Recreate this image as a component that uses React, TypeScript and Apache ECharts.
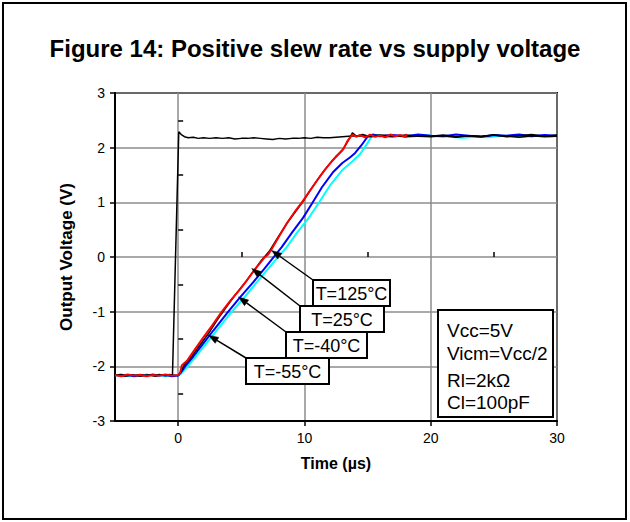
import React, { useEffect, useRef } from 'react';
import * as echarts from 'echarts';

const TITLE = 'Figure 14: Positive slew rate vs supply voltage';
const X_NAME = 'Time (µs)';
const Y_NAME = 'Output Voltage (V)';
const X_MIN = -5;
const X_MAX = 30;
const Y_MIN = -3;
const Y_MAX = 3;
const X_MAJOR = [0, 10, 20, 30];
const X_MINOR = [5, 15, 25];
const Y_MINOR = [-2.5, -1.5, -0.5, 0.5, 1.5, 2.5];
const CONDITIONS = ['Vcc=5V', 'Vicm=Vcc/2', 'Rl=2kΩ', 'Cl=100pF'];

const stepBlack = [
  [-5, -2.17], [-4.6, -2.15], [-4.2, -2.18], [-3.8, -2.16], [-3.4, -2.17], [-3, -2.15], [-2.6, -2.17],
  [-2.2, -2.16], [-1.8, -2.18], [-1.4, -2.16], [-1, -2.17], [-0.7, -2.15], [-0.45, -2.17], [0.05, 2.29],
  [0.25, 2.24], [0.5, 2.2], [0.8, 2.18], [1.2, 2.19], [1.6, 2.17], [2.0, 2.18], [2.5, 2.17], [3, 2.18],
  [3.5, 2.17], [4, 2.18], [4.5, 2.16], [5, 2.17], [5.5, 2.17], [6, 2.18], [6.5, 2.17], [7, 2.16],
  [7.5, 2.15], [8, 2.17], [8.5, 2.16], [9, 2.17], [9.5, 2.17], [10, 2.18], [10.5, 2.17], [11, 2.19],
  [11.5, 2.18], [12, 2.18], [12.5, 2.19], [13, 2.2], [13.5, 2.21], [14, 2.22], [15, 2.21], [16, 2.23],
  [17, 2.22], [18, 2.2], [19, 2.22], [20, 2.21], [21, 2.23], [22, 2.2], [23, 2.22], [24, 2.21],
  [25, 2.23], [26, 2.2], [27, 2.22], [28, 2.24], [29, 2.21], [30, 2.23],
];

const rampRed = [
  [-5, -2.16], [-4.5, -2.18], [-4, -2.15], [-3.5, -2.17], [-3, -2.16], [-2.5, -2.18], [-2, -2.16],
  [-1.5, -2.17], [-1, -2.15], [-0.5, -2.17], [0, -2.16], [0.15, -2.12], [0.3, -1.98], [0.7, -1.9],
  [1.3, -1.7], [2.0, -1.47], [2.7, -1.25], [3.46, -1.0], [4.2, -0.78], [4.8, -0.62], [5.4, -0.44],
  [6.1, -0.22], [6.8, -0.02], [7.1, 0.04], [7.4, 0.14], [8.0, 0.38], [8.7, 0.65], [9.3, 0.85],
  [9.8, 1.0], [10.4, 1.2], [11.0, 1.4], [11.6, 1.59], [12.2, 1.76], [12.7, 1.88], [13.1, 1.98],
  [13.4, 2.12], [13.8, 2.24], [14.1, 2.2], [14.4, 2.23], [14.8, 2.19], [15.2, 2.24], [15.6, 2.2],
  [16.0, 2.22], [16.4, 2.19], [16.8, 2.24], [17.2, 2.21], [17.6, 2.23], [18.0, 2.2], [18.1, 2.25],
];

const rampBlack = [
  [-5, -2.17], [-4.5, -2.15], [-4, -2.17], [-3.5, -2.16], [-3, -2.18], [-2.5, -2.16], [-2, -2.17],
  [-1.5, -2.15], [-1, -2.17], [-0.5, -2.16], [0, -2.17], [0.2, -2.1], [0.5, -1.97], [1.0, -1.84],
  [1.7, -1.62], [2.4, -1.4], [3.1, -1.15], [3.8, -0.92], [4.5, -0.7], [5.2, -0.5], [5.9, -0.28],
  [6.6, -0.06], [7.2, 0.1], [7.8, 0.32], [8.5, 0.58], [9.2, 0.8], [9.9, 1.02], [10.6, 1.27],
  [11.3, 1.5], [11.9, 1.68], [12.5, 1.84], [13.0, 1.95], [13.4, 2.1], [13.8, 2.27], [14.1, 2.21],
  [14.6, 2.24], [15.2, 2.2], [16, 2.22], [17, 2.2], [18, 2.23], [19, 2.21], [20, 2.2], [21, 2.22],
  [22, 2.19], [23, 2.22], [24, 2.2], [25, 2.23], [26, 2.21], [27, 2.19], [28, 2.22], [29, 2.2], [30, 2.21],
];

const rampBlue = [
  [-5, -2.16], [-4.5, -2.17], [-4, -2.16], [-3.5, -2.18], [-3, -2.16], [-2.5, -2.17], [-2, -2.15],
  [-1.5, -2.17], [-1, -2.16], [-0.5, -2.18], [0, -2.17], [0.2, -2.12], [0.55, -2.0], [1.2, -1.82],
  [2.0, -1.58], [2.8, -1.34], [3.97, -1.0], [4.9, -0.74], [5.95, -0.46], [6.8, -0.22], [7.5, -0.02],
  [8.2, 0.18], [9.0, 0.44], [9.9, 0.72], [10.6, 0.98], [11.4, 1.28], [12.3, 1.56], [13.0, 1.72],
  [13.6, 1.82], [14.0, 1.9], [14.5, 2.04], [15.0, 2.2], [15.4, 2.24], [16, 2.21], [17, 2.23],
  [18, 2.21], [19, 2.24], [20, 2.22], [21, 2.21], [22, 2.24], [23, 2.22], [24, 2.2], [25, 2.23],
  [26, 2.22], [27, 2.24], [28, 2.21], [29, 2.23], [30, 2.22],
];

const rampCyan = [
  [-5, -2.17], [-4.5, -2.16], [-4, -2.18], [-3.5, -2.16], [-3, -2.17], [-2.5, -2.15], [-2, -2.17],
  [-1.5, -2.16], [-1, -2.18], [-0.5, -2.16], [0, -2.17], [0.2, -2.14], [0.6, -2.04], [1.4, -1.82],
  [2.3, -1.56], [3.2, -1.3], [4.25, -1.0], [5.2, -0.75], [6.2, -0.47], [7.0, -0.25], [7.8, -0.03],
  [8.6, 0.18], [9.4, 0.44], [10.3, 0.7], [11.1, 0.98], [12.0, 1.3], [13.0, 1.59], [13.7, 1.73],
  [14.4, 1.88], [14.9, 2.05], [15.3, 2.2], [15.7, 2.23], [16.5, 2.2], [17.5, 2.22], [18.5, 2.2],
  [19.5, 2.23], [20.5, 2.21], [21.5, 2.2], [22.5, 2.18], [23.5, 2.2], [24.5, 2.19], [25.5, 2.22],
  [26.5, 2.21], [27.5, 2.2], [28.5, 2.22], [29.5, 2.21], [30, 2.22],
];

const ANNOTATIONS = [
  { label: 'T=125°C', tip: [7.4, 0.12] },
  { label: 'T=25°C', tip: [5.83, -0.21] },
  { label: 'T=-40°C', tip: [4.78, -0.73] },
  { label: 'T=-55°C', tip: [2.4, -1.43] },
];

const FONT = '"Liberation Sans", Arial, Helvetica, sans-serif';

// Layout of annotation boxes (pixels)
const BOXES = [
  { x: 313, y: 280, w: 77, h: 26 },
  { x: 300, y: 306, w: 84, h: 26 },
  { x: 286, y: 332, w: 81, h: 26 },
  { x: 246, y: 358, w: 83, h: 26 },
];
const COND_BOX = { x: 438, y: 310, w: 115, h: 107 };
const COND_Y = [330, 353, 380, 402];

export default function App() {
  const ref = useRef<HTMLDivElement>(null);
  useEffect(() => {
    if (!ref.current) return;
    const chart = echarts.init(ref.current, undefined, { renderer: 'svg' });
    const mk = (data: number[][], color: string, width: number) => ({
      type: 'line',
      data,
      xAxisIndex: 0,
      yAxisIndex: 0,
      showSymbol: false,
      symbol: 'none',
      silent: true,
      lineStyle: { color, width },
      itemStyle: { color },
    });
    const axisCommonX = {
      type: 'value',
      min: X_MIN,
      max: X_MAX,
      position: 'bottom',
    };
    chart.setOption({
      animation: false,
      backgroundColor: '#fff',
      title: {
        text: TITLE,
        left: 'center',
        top: 31,
        textStyle: { fontFamily: FONT, fontSize: 24, fontWeight: 'bold', color: '#000' },
      },
      grid: {
        left: 115,
        right: 73,
        top: 93,
        bottom: 101,
        show: true,
        borderColor: '#000',
        borderWidth: 2,
        backgroundColor: 'transparent',
      },
      xAxis: [
        {
          ...axisCommonX,
          splitNumber: 4,
          axisLine: { show: true, onZero: false, lineStyle: { color: '#000', width: 2 } },
          axisTick: { show: true, customValues: X_MAJOR, inside: false, length: 5, lineStyle: { color: '#000', width: 1.5 } },
          axisLabel: { customValues: X_MAJOR, color: '#000', fontSize: 14, fontFamily: FONT, margin: 10 },
          splitLine: { show: true, lineStyle: { color: '#8c8c8c', width: 1.5 } },
          name: X_NAME,
          nameLocation: 'middle',
          nameGap: 34,
          nameTextStyle: { fontFamily: FONT, fontSize: 16, fontWeight: 'bold', color: '#000' },
        },
        {
          ...axisCommonX,
          axisLine: { show: false },
          axisTick: { show: true, customValues: X_MINOR, inside: true, length: 5, lineStyle: { color: '#000', width: 1.5 } },
          axisLabel: { show: false },
          splitLine: { show: false },
        },
      ],
      yAxis: [
        {
          type: 'value',
          min: Y_MIN,
          max: Y_MAX,
          interval: 1,
          position: 'left',
          axisLine: { show: true, onZero: false, lineStyle: { color: '#000', width: 2 } },
          axisTick: { show: true, inside: false, length: 5, lineStyle: { color: '#000', width: 1.5 } },
          axisLabel: { color: '#000', fontSize: 14, fontFamily: FONT, margin: 10 },
          splitLine: { show: true, lineStyle: { color: '#8c8c8c', width: 1.5 } },
          name: Y_NAME,
          nameLocation: 'middle',
          nameRotate: 90,
          nameGap: 40,
          nameTextStyle: { fontFamily: FONT, fontSize: 17, fontWeight: 'bold', color: '#000' },
        },
        {
          type: 'value',
          min: Y_MIN,
          max: Y_MAX,
          interval: 0.5,
          position: 'left',
          axisLine: { show: false },
          axisTick: { show: true, customValues: Y_MINOR, inside: true, length: 5, lineStyle: { color: '#000', width: 1.5 } },
          axisLabel: { show: false },
          splitLine: { show: false },
        },
      ],
      series: [
        mk(rampCyan, '#00ffff', 2),
        mk(rampBlue, '#0000ff', 2),
        mk(stepBlack, '#000000', 1.5),
        mk(rampBlack, '#000000', 1.5),
        mk(rampRed, '#ff0000', 2),
      ],
    });

    const els: any[] = [];
    els.push({
      type: 'rect',
      shape: { x: 3, y: 3, width: 623, height: 516 },
      style: { fill: 'none', stroke: '#000', lineWidth: 2 },
      z: 100,
      silent: true,
    });
    ANNOTATIONS.forEach((a, i) => {
      const b = BOXES[i];
      const tip = chart.convertToPixel({ xAxisIndex: 0, yAxisIndex: 0 }, a.tip) as number[];
      const tail = [b.x, b.y];
      const dx = tip[0] - tail[0];
      const dy = tip[1] - tail[1];
      const len = Math.sqrt(dx * dx + dy * dy);
      const ux = dx / len;
      const uy = dy / len;
      const hl = 10;
      const hw = 3.5;
      const bx = tip[0] - ux * hl;
      const by = tip[1] - uy * hl;
      els.push({
        type: 'line',
        shape: { x1: tail[0], y1: tail[1], x2: bx, y2: by },
        style: { stroke: '#000', lineWidth: 1.5 },
        z: 100,
        silent: true,
      });
      els.push({
        type: 'polygon',
        shape: {
          points: [
            [tip[0], tip[1]],
            [bx - uy * hw, by + ux * hw],
            [bx + uy * hw, by - ux * hw],
          ],
        },
        style: { fill: '#000', stroke: '#000', lineWidth: 0.5 },
        z: 100,
        silent: true,
      });
      els.push({
        type: 'rect',
        shape: { x: b.x, y: b.y, width: b.w, height: b.h },
        style: { fill: '#fff', stroke: '#000', lineWidth: 2 },
        z: 101,
        silent: true,
      });
      els.push({
        type: 'text',
        x: b.x + b.w / 2,
        y: b.y + b.h / 2 + 1,
        style: {
          text: a.label,
          fill: '#000',
          font: `18px ${FONT}`,
          align: 'center',
          verticalAlign: 'middle',
        },
        z: 102,
        silent: true,
      });
    });
    els.push({
      type: 'rect',
      shape: { x: COND_BOX.x, y: COND_BOX.y, width: COND_BOX.w, height: COND_BOX.h },
      style: { fill: '#fff', stroke: '#000', lineWidth: 2 },
      z: 101,
      silent: true,
    });
    CONDITIONS.forEach((c, i) => {
      els.push({
        type: 'text',
        x: COND_BOX.x + 9,
        y: COND_Y[i],
        style: {
          text: c,
          fill: '#000',
          font: `19px ${FONT}`,
          align: 'left',
          verticalAlign: 'middle',
        },
        z: 102,
        silent: true,
      });
    });
    chart.setOption({ graphic: { elements: els } });

    return () => chart.dispose();
  }, []);
  return (
    <div
      ref={ref}
      style={{ position: 'absolute', left: 0, top: 0, width: 630, height: 522, background: '#fff' }}
    />
  );
}
